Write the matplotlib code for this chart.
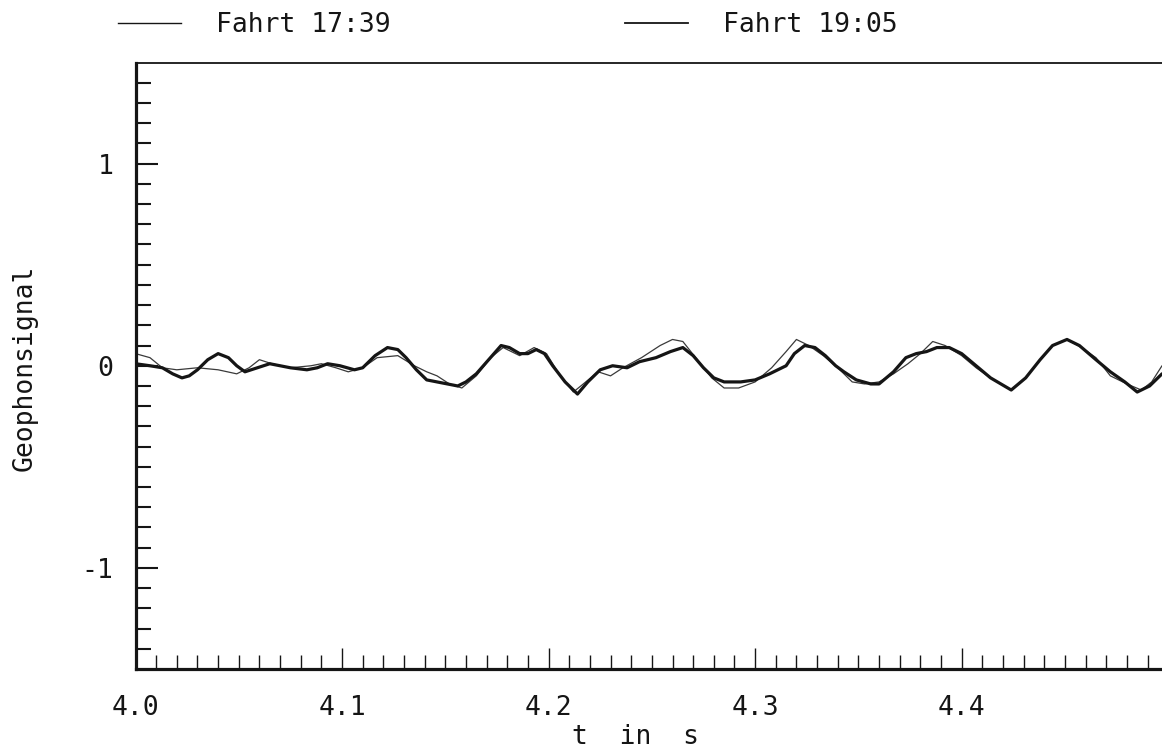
import numpy as np
import matplotlib
matplotlib.use("Agg")
import matplotlib.pyplot as plt
from matplotlib.lines import Line2D
from matplotlib.ticker import FixedLocator, FixedFormatter

# geophone trace, run at 17:39 (thin line)
t_1739 = [4.000, 4.007, 4.013, 4.020, 4.030, 4.040, 4.049, 4.055, 4.060, 4.066,
          4.075, 4.085, 4.090, 4.097, 4.103, 4.110, 4.117, 4.127, 4.135, 4.141,
          4.146, 4.152, 4.158, 4.165, 4.172, 4.178, 4.186, 4.193, 4.199, 4.205,
          4.212, 4.218, 4.224, 4.230, 4.236, 4.245, 4.254, 4.260, 4.265, 4.272,
          4.279, 4.285, 4.292, 4.300, 4.308, 4.315, 4.320, 4.326, 4.333, 4.340,
          4.347, 4.353, 4.360, 4.367, 4.374, 4.380, 4.386, 4.392, 4.400, 4.407,
          4.414, 4.424, 4.431, 4.438, 4.444, 4.451, 4.458, 4.465, 4.472, 4.480,
          4.487, 4.492, 4.497]
v_1739 = [0.06, 0.04, -0.01, -0.02, -0.01, -0.02, -0.04, -0.01, 0.03, 0.01,
          -0.01, 0.00, 0.01, -0.01, -0.03, -0.01, 0.04, 0.05, 0.00, -0.03,
          -0.05, -0.09, -0.11, -0.05, 0.04, 0.09, 0.05, 0.09, 0.06, -0.04,
          -0.13, -0.08, -0.03, -0.05, -0.01, 0.04, 0.10, 0.13, 0.12, 0.03,
          -0.06, -0.11, -0.11, -0.08, -0.01, 0.07, 0.13, 0.10, 0.05, -0.01,
          -0.08, -0.09, -0.08, -0.04, 0.01, 0.06, 0.12, 0.10, 0.05, -0.01,
          -0.06, -0.12, -0.06, 0.03, 0.10, 0.13, 0.09, 0.04, -0.05, -0.09,
          -0.12, -0.08, 0.00]

# geophone trace, run at 19:05 (thick line)
t_1905 = [4.000, 4.007, 4.013, 4.018, 4.0225, 4.026, 4.030, 4.035, 4.040, 4.045,
          4.049, 4.053, 4.059, 4.065, 4.070, 4.075, 4.083, 4.088, 4.093, 4.099,
          4.106, 4.110, 4.116, 4.122, 4.127, 4.131, 4.136, 4.141, 4.146, 4.151,
          4.156, 4.160, 4.165, 4.171, 4.177, 4.181, 4.186, 4.190, 4.194, 4.198,
          4.202, 4.208, 4.214, 4.219, 4.225, 4.231, 4.238, 4.244, 4.252, 4.259,
          4.265, 4.270, 4.275, 4.280, 4.285, 4.293, 4.300, 4.307, 4.315, 4.319,
          4.324, 4.329, 4.334, 4.339, 4.343, 4.349, 4.356, 4.360, 4.367, 4.373,
          4.378, 4.383, 4.388, 4.394, 4.400, 4.407, 4.414, 4.424, 4.431, 4.438,
          4.444, 4.451, 4.457, 4.465, 4.472, 4.479, 4.485, 4.491, 4.497]
v_1905 = [0.01, 0.00, -0.01, -0.04, -0.06, -0.05, -0.02, 0.03, 0.06, 0.04,
          0.00, -0.03, -0.01, 0.01, 0.00, -0.01, -0.02, -0.01, 0.01, 0.00,
          -0.02, -0.01, 0.05, 0.09, 0.08, 0.04, -0.02, -0.07, -0.08, -0.09,
          -0.10, -0.08, -0.04, 0.03, 0.10, 0.09, 0.06, 0.06, 0.08, 0.06,
          0.00, -0.08, -0.14, -0.08, -0.02, 0.00, -0.01, 0.02, 0.04, 0.07,
          0.09, 0.05, -0.01, -0.06, -0.08, -0.08, -0.07, -0.04, 0.00, 0.06,
          0.10, 0.09, 0.05, 0.00, -0.03, -0.07, -0.09, -0.09, -0.03, 0.04,
          0.06, 0.07, 0.09, 0.09, 0.06, 0.00, -0.06, -0.12, -0.06, 0.03,
          0.10, 0.13, 0.10, 0.03, -0.03, -0.08, -0.13, -0.10, -0.04]

labels = ["Fahrt 17:39", "Fahrt 19:05"]
x_major = [4.0, 4.1, 4.2, 4.3, 4.4]
x_major_labels = ["4.0", "4.1", "4.2", "4.3", "4.4"]
y_major = [-1, 0, 1]
y_major_labels = ["-1", "0", "1"]

plt.rcParams["font.family"] = ["DejaVu Sans Mono"]
plt.rcParams["font.size"] = 19

W, H = 1162, 753
fig = plt.figure(figsize=(W / 100, H / 100), dpi=100)
ax = fig.add_axes([135.5 / W, (H - 669) / H, 1 - 135.5 / W, (669 - 62.5) / H])

ink = "#151515"
ax.plot(t_1739, v_1739, color="#3a3a3a", lw=0.9,
        solid_joinstyle="round", solid_capstyle="round")
ax.plot(t_1905, v_1905, color=ink, lw=2.3,
        solid_joinstyle="round", solid_capstyle="round")

ax.set_xlim(4.0, 4.497)
ax.set_ylim(-1.5, 1.5)

# tick positions: majors labelled, minors every 0.01 s / 0.1 units
x_minor = [4.0 + i / 100 for i in range(1, 50) if i % 10]
y_minor = [i / 10 for i in range(-14, 15) if i % 10]
ax.xaxis.set_major_locator(FixedLocator(x_major))
ax.xaxis.set_major_formatter(FixedFormatter(x_major_labels))
ax.xaxis.set_minor_locator(FixedLocator(x_minor))
ax.yaxis.set_major_locator(FixedLocator(y_major))
ax.yaxis.set_major_formatter(FixedFormatter(y_major_labels))
ax.yaxis.set_minor_locator(FixedLocator(y_minor))

ax.tick_params(axis="x", which="major", direction="in", length=15, width=1.0,
               pad=19, colors=ink)
ax.tick_params(axis="x", which="minor", direction="in", length=10, width=1.0,
               colors=ink)
ax.tick_params(axis="y", which="major", direction="in", length=16, width=1.5,
               pad=16, colors=ink)
ax.tick_params(axis="y", which="minor", direction="in", length=11, width=1.5,
               colors=ink)

ax.spines["right"].set_visible(False)
ax.spines["left"].set_linewidth(2.3)
ax.spines["bottom"].set_linewidth(2.3)
ax.spines["top"].set_linewidth(1.3)
for s in ("left", "bottom", "top"):
    ax.spines[s].set_color(ink)

# legend across the top
handles = [Line2D([], [], color=ink, lw=1.0), Line2D([], [], color=ink, lw=1.3)]
fig.legend(handles, labels, ncol=2, loc="center left",
           bbox_to_anchor=(118 / W, 1 - 25 / H), frameon=False,
           borderpad=0, borderaxespad=0, handlelength=2.4,
           handletextpad=1.3, columnspacing=8.9, labelcolor=ink)

fig.text(25 / W, 1 - 368 / H, "Geophonsignal", rotation=90,
         ha="center", va="center", color=ink)
fig.text(635 / W, 1 - 737 / H, "t  in  s", ha="center", va="center", color=ink)

fig.savefig("out.png", dpi=100)
